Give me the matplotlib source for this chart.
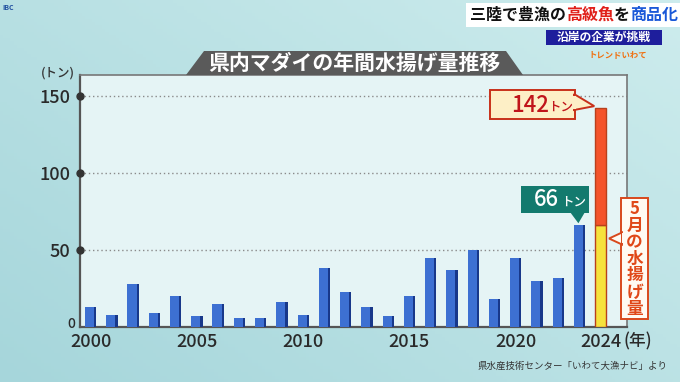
import numpy as np
import matplotlib
matplotlib.use('Agg')
import matplotlib.pyplot as plt
from matplotlib.patches import Polygon, Rectangle
from matplotlib.colors import LinearSegmentedColormap

plt.rcParams['font.family'] = ['Noto Sans CJK JP', 'DejaVu Sans']

years = list(range(2000, 2024))
catch = [13, 8, 28, 9, 20, 7, 15, 6, 6, 16, 8, 38,
         23, 13, 7, 20, 45, 37, 50, 18, 45, 30, 32, 66]
year_2024 = 2024
total_2024 = 142
may_2024 = 66
xtick_years = [2000, 2005, 2010, 2015, 2020, 2024]
ytick_vals = [0, 50, 100, 150]

W, H = 680, 382


def fpx(x, y):
    # pixel position measured from top-left -> figure fraction
    return (x / W, 1 - y / H)


def box(fig, x0, y0, x1, y1, **kw):
    fig.patches.append(Rectangle(fpx(x0, y1), (x1 - x0) / W, (y1 - y0) / H,
                                 transform=fig.transFigure, **kw))


def poly(fig, pts, **kw):
    fig.patches.append(Polygon([fpx(x, y) for x, y in pts], closed=True,
                               transform=fig.transFigure, **kw))


fig = plt.figure(figsize=(6.8, 3.82), dpi=100)

# background
bg = fig.add_axes([0, 0, 1, 1], zorder=-5)
gx = np.linspace(0, 1, 200)
gy = np.linspace(0, 1, 120)
GX, GY = np.meshgrid(gx, gy)
grad = 0.55 * GX + 0.45 * (1 - GY)
cmap = LinearSegmentedColormap.from_list('bg', ['#a6d6db', '#cdeced'])
bg.imshow(grad, cmap=cmap, aspect='auto', extent=[0, 1, 0, 1])
bg.axis('off')

ax = fig.add_axes([80 / W, 1 - 327 / H, (627 - 80) / W, (327 - 75) / H])
ax.set_facecolor('#e5f4f5')

# blue bars
bw = 0.53
ax.bar(years, catch, width=bw, color='#3d70d2', zorder=3)
ax.bar(np.array(years) + bw / 2 - 0.05, catch, width=0.1, color='#18388a', zorder=3)

# 2024 stacked bar
ax.bar(year_2024, may_2024, width=0.55, color='#f6e23c', edgecolor='#b8401c',
       linewidth=1.0, zorder=3)
ax.bar(year_2024, total_2024 - may_2024, bottom=may_2024, width=0.55,
       color='#f4532a', edgecolor='#b8401c', linewidth=1.0, zorder=3)

ax.set_xlim(1999.5, 2025.24)
ax.set_ylim(0, 163.5)

for v in ytick_vals[1:]:
    ax.axhline(v, color='#8a8a8a', lw=1, ls=(0, (1, 2)), zorder=1)
ax.plot([1999.5] * 3, ytick_vals[1:], 'o', color='#333333', ms=5,
        clip_on=False, zorder=5)

for s in ['left', 'bottom']:
    ax.spines[s].set_color('#555555')
    ax.spines[s].set_linewidth(1.6)
for s in ['top', 'right']:
    ax.spines[s].set_color('#777777')
    ax.spines[s].set_linewidth(1.2)

ax.set_xticks(xtick_years)
ax.set_xticklabels([str(y) for y in xtick_years], fontsize=13,
                   fontweight='medium', color='#2a2a2a')
ax.set_yticks(ytick_vals[1:])
ax.set_yticklabels([str(v) for v in ytick_vals[1:]], fontsize=13,
                   fontweight='medium', color='#2a2a2a')
ax.tick_params(length=0)
ax.tick_params(axis='x', pad=4)
ax.tick_params(axis='y', pad=7)
fig.text(*fpx(75, 324), '0', ha='right', va='center', fontsize=10,
         fontweight='medium', color='#2a2a2a')
fig.text(*fpx(58, 73), '(トン)', ha='center', va='center', fontsize=9,
         fontweight='medium', color='#333333')
fig.text(*fpx(638, 341), '(年)', ha='center', va='center', fontsize=12,
         fontweight='medium', color='#2a2a2a')

# title banner
poly(fig, [(186, 75), (204, 51), (506, 51), (523, 75)], facecolor='#5a5a5a',
     edgecolor='none')
fig.text(*fpx(354, 63), '県内マダイの年間水揚げ量推移', ha='center', va='center',
         fontsize=15, fontweight='bold', color='white')

# headline top-right
box(fig, 466, 3, 680, 27, facecolor='white', edgecolor='none')
parts = [('三陸で豊漁の', '#111111'), ('高級魚', '#e0201a'), ('を', '#111111'),
         ('商品化', '#1a58d8')]
fig.canvas.draw()
r = fig.canvas.get_renderer()
xcur = 470
for s, c in parts:
    t = fig.text(*fpx(xcur, 15), s, ha='left', va='center', fontsize=11.5,
                 fontweight='bold', color=c)
    xcur += t.get_window_extent(r).width
box(fig, 546, 30, 662, 45, facecolor='#1e1e9c', edgecolor='none')
fig.text(*fpx(604, 37.5), '沿岸の企業が挑戦', ha='center', va='center',
         fontsize=8.5, fontweight='bold', color='white')
fig.text(*fpx(618, 55), 'トレンドいわて', ha='center', va='center', fontsize=6,
         fontweight='bold', color='#f07010', style='italic')
fig.text(*fpx(2, 8), 'IBC', ha='left', va='center', fontsize=5,
         fontweight='bold', color='#2050a0')

# callout: 142トン
tip_x, tip_y = ax.transData.transform((year_2024 - 0.3, total_2024))
tip = (tip_x, H - tip_y - 2)
box(fig, 490, 90, 575, 119, facecolor='#fdefc6', edgecolor='#c8301a', lw=1.4)
poly(fig, [(574, 94), tip, (574, 110)], facecolor='#fdefc6',
     edgecolor='#c8301a', lw=1.4)
box(fig, 572, 95.5, 576, 108.5, facecolor='#fdefc6', edgecolor='none')
fig.text(*fpx(530, 105), '142', ha='center', va='center', fontsize=16,
         fontweight='medium', color='#c0141a')
fig.text(*fpx(561, 107), 'トン', ha='center', va='center', fontsize=9,
         fontweight='medium', color='#c0141a')

# callout: 66トン
tip_x, tip_y = ax.transData.transform((2023, catch[-1]))
tip = (tip_x - 1, H - tip_y - 2)
box(fig, 521, 186, 589, 213, facecolor='#137a6e', edgecolor='none')
poly(fig, [(570, 212), tip, (585, 212)], facecolor='#137a6e', edgecolor='none')
fig.text(*fpx(546, 200), '66', ha='center', va='center', fontsize=16,
         fontweight='medium', color='white')
fig.text(*fpx(574, 202), 'トン', ha='center', va='center', fontsize=9,
         fontweight='medium', color='white')

# callout: 5月の水揚げ量
tip_x, tip_y = ax.transData.transform((year_2024 + 0.3, may_2024 * 0.87))
tip = (tip_x + 2, H - tip_y)
box(fig, 621, 198, 648, 319, facecolor='#fffaf2', edgecolor='#d8481c', lw=1.4)
poly(fig, [(622, tip[1] - 6), tip, (622, tip[1] + 6)], facecolor='#fffaf2',
     edgecolor='#d8481c', lw=1.4)
box(fig, 621.5, tip[1] - 5, 624, tip[1] + 5, facecolor='#fffaf2',
    edgecolor='none')
label = '5月の水揚げ量'
for i, ch in enumerate(label):
    fig.text(*fpx(634.5, 209 + i * 16.6), ch, ha='center', va='center',
             fontsize=12, fontweight='bold', color='#e04818')

fig.text(*fpx(668, 366), '県水産技術センター「いわて大漁ナビ」より', ha='right',
         va='center', fontsize=6.8, color='#333333')

fig.savefig('out.png', dpi=100)
